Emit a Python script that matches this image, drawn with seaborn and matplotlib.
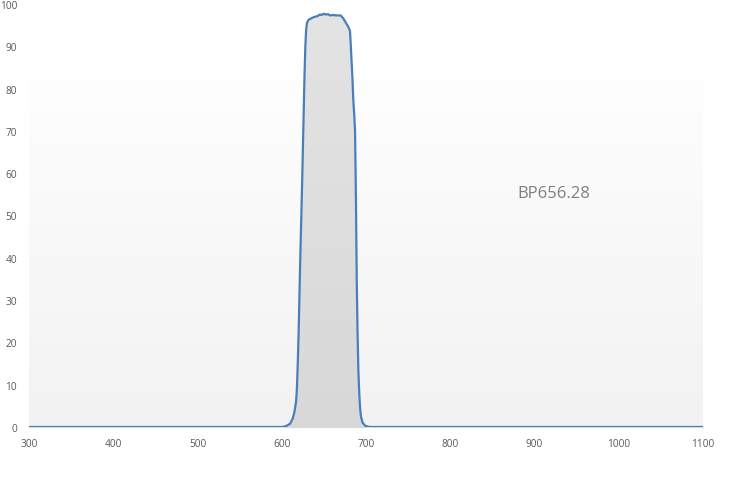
import matplotlib
matplotlib.use("Agg")
import matplotlib.pyplot as plt
import seaborn as sns
import numpy as np
import pandas as pd

# transmission curve
wavelength = [300, 600, 605, 610, 613, 615, 617, 618, 619, 620, 621, 622, 623, 624,
              625, 626, 627, 628, 629, 630, 632, 635, 638, 640, 643, 645, 647, 650,
              652, 655, 657, 660, 665, 670, 673, 676, 679, 681, 682, 683, 684, 685,
              686, 687, 688, 689, 690, 691, 692, 693, 694, 696, 699, 703, 706, 1100]
transmission = [0, 0, 0.2, 0.8, 2, 3.5, 6, 9, 15, 22, 31, 40, 48, 56,
                65, 74, 83, 90, 94, 95.6, 96.3, 96.6, 96.9, 97.0, 97.2, 97.5, 97.4, 97.7,
                97.5, 97.6, 97.3, 97.4, 97.3, 97.3, 96.6, 95.6, 94.6, 93.6, 90, 86, 82, 77,
                74, 70, 55, 35, 22, 13, 8, 4.5, 2.5, 1, 0.3, 0.05, 0, 0]
filter_name = "BP656.28"
x_ticks = list(range(300, 1101, 100))
y_ticks = list(range(0, 101, 10))

df = pd.DataFrame({"wavelength": wavelength, "transmission": transmission})

sns.set_style("white")
plt.rcParams["font.family"] = ["Open Sans", "DejaVu Sans"]

fig = plt.figure(figsize=(7.36, 4.85), dpi=100)
ax = fig.add_axes([29 / 736, 57 / 485, 674 / 736, 423 / 485])
ax.set_xlim(300, 1100)
ax.set_ylim(0, 100)

# plot area background: white on top, light grey gradient below
grad = np.linspace(0, 1, 256).reshape(-1, 1)
ax.imshow(grad, extent=(300, 1100, 0, 82), aspect="auto", origin="lower",
          cmap=matplotlib.colors.LinearSegmentedColormap.from_list("bg", ["#f2f2f2", "#fefefe"]),
          zorder=0)

# grey fill under the curve with a soft vertical gradient
poly = ax.fill_between(df["wavelength"], df["transmission"], 0, color="none", lw=0)
img = ax.imshow(grad, extent=(300, 1100, 0, 100), aspect="auto", origin="lower",
                cmap=matplotlib.colors.LinearSegmentedColormap.from_list("fill", ["#d8d8d8", "#e4e4e4"]),
                zorder=1)
img.set_clip_path(poly.get_paths()[0], transform=ax.transData)

sns.lineplot(data=df, x="wavelength", y="transmission", color="#4a7ebb", lw=1.6, ax=ax, zorder=3)

ax.text(923, 55.3, filter_name, fontsize=12, color="#7f7f7f", ha="center", va="center")

ax.set_xticks(x_ticks)
ax.set_yticks(y_ticks)
ax.tick_params(axis="both", length=0, labelsize=7.3, labelcolor="#595959")
ax.tick_params(axis="y", pad=8.5)
ax.tick_params(axis="x", pad=8)
ax.set_xlabel("")
ax.set_ylabel("")
for side in ["top", "right", "left"]:
    ax.spines[side].set_visible(False)
ax.spines["bottom"].set_color("#d9d9d9")
ax.spines["bottom"].set_linewidth(0.8)

fig.savefig("out.png", dpi=100)
